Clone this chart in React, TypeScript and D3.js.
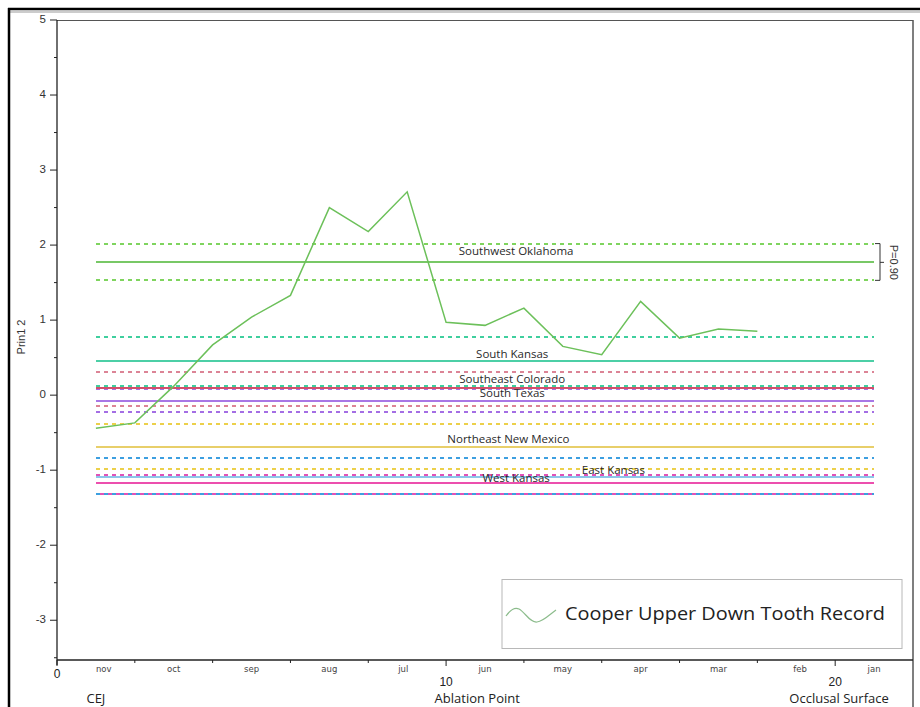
import React from "react";
import * as d3 from "d3";

// Cooper upper tooth record, sampled along the tooth
const ablationPoints = [1, 2, 3, 4, 5, 6, 7, 8, 9, 10, 11, 12, 13, 14, 15, 16, 17, 18];
const prin2Values = [-0.44, -0.37, 0.12, 0.67, 1.04, 1.33, 2.5, 2.18, 2.71, 0.97, 0.93, 1.16, 0.65, 0.54, 1.25, 0.76, 0.88, 0.85];

// Regional reference means with their 0.90 intervals
const regionNames = ["Southwest Oklahoma", "South Kansas", "Southeast Colorado", "South Texas", "Northeast New Mexico", "East Kansas", "West Kansas"];
const regionMeans = [1.77, 0.46, 0.1, -0.08, -0.69, -1.09, -1.17];
const regionUpper = [2.02, 0.78, 0.31, 0.08, -0.38, -0.84, -1.07];
const regionLower = [1.53, 0.12, -0.15, -0.22, -0.99, -1.32, -1.32];
const regionMeanColors = ["#78c866", "#4ccfa6", "#d2506a", "#a877e6", "#e8cf6a", "#8cc6ea", "#ec4fae"];
const regionBandColors = ["#7fd45e", "#3fcf9e", "#dc8496", "#a46ee4", "#ecd04a", "#3d9fe0", "#e052b8"];
const regionLabelX = [11.8, 11.7, 11.7, 11.7, 11.6, 14.3, 11.8];
const regionLabelDy = [-10, -6, -8, -7, -7, -6, -4];

// Axis ticks and labels
const yMajorTicks = [-3, -2, -1, 0, 1, 2, 3, 4, 5];
const yMinorTicks = [-3.5, -2.5, -1.5, -0.5, 0.5, 1.5, 2.5, 3.5, 4.5];
const xMajorTicks = [0, 10, 20];
const xMinorTicks = [2, 4, 6, 8, 12, 14, 16, 18];
const monthLabels = ["nov", "oct", "sep", "aug", "jul", "jun", "may", "apr", "mar", "feb", "jan"];
const monthPositions = [1.2, 3, 5, 7, 8.9, 11, 13, 15, 17, 19.1, 21];
const sectionLabels = ["CEJ", "Ablation Point", "Occlusal Surface"];
const sectionPositions = [1.0, 10.8, 20.1];
const refLineStart = 1;
const refLineEnd = 21;

const W = 920;
const H = 707;
const left = 57;
const right = 913;
const top = 20;
const bottom = 660;

export default function App() {
  const x = d3.scaleLinear().domain([0, 22]).range([left, right]);
  const y = d3.scaleLinear().domain([-3.53, 5]).range([bottom, top]);
  const ys = (v: number) => Math.round(y(v));

  const line = d3
    .line<number>()
    .x((_, i) => x(ablationPoints[i]))
    .y((d) => y(d));

  const labelFont = "'Open Sans', 'Noto Sans', sans-serif";
  const axisFont = "'Liberation Sans', Arial, sans-serif";

  const bracketX = 880;
  const yUp = y(regionUpper[0]);
  const yLo = y(regionLower[0]);
  const yMid = y(regionMeans[0]);

  return (
    <svg
      width={W}
      height={H}
      style={{ position: "absolute", left: 0, top: 0, background: "#fff" }}
    >
      <rect x={0} y={0} width={W} height={H} fill="#fff" />
      {/* outer frame */}
      <line x1={8} x2={W} y1={9} y2={9} stroke="#000" strokeWidth={2.5} />
      <line x1={10} x2={W} y1={12} y2={12} stroke="#999" strokeWidth={1} />
      <line x1={9} x2={9} y1={8} y2={H} stroke="#000" strokeWidth={2.5} />

      {/* plot frame */}
      <line x1={left} x2={right} y1={top + 0.5} y2={top + 0.5} stroke="#555" strokeWidth={1.2} />
      <line x1={right} x2={right} y1={top} y2={H} stroke="#555" strokeWidth={1.5} />

      {/* reference bands */}
      {regionNames.map((name, i) => (
        <g key={name} shapeRendering="crispEdges">
          <line
            x1={x(refLineStart)}
            x2={x(refLineEnd)}
            y1={ys(regionUpper[i])}
            y2={ys(regionUpper[i])}
            stroke={regionBandColors[i]}
            strokeWidth={2}
            strokeDasharray="4,4"
          />
          <line
            x1={x(refLineStart)}
            x2={x(refLineEnd)}
            y1={ys(regionLower[i])}
            y2={ys(regionLower[i])}
            stroke={regionBandColors[i]}
            strokeWidth={2}
            strokeDasharray="4,4"
            strokeDashoffset={i === 6 ? 4 : 0}
          />
        </g>
      ))}
      {regionNames.map((name, i) => (
        <line
          key={name + "-mean"}
          shapeRendering="crispEdges"
          x1={x(refLineStart)}
          x2={x(refLineEnd)}
          y1={ys(regionMeans[i])}
          y2={ys(regionMeans[i])}
          stroke={regionMeanColors[i]}
          strokeWidth={2}
        />
      ))}
      {regionNames.map((name, i) => (
        <text
          key={name + "-label"}
          x={x(regionLabelX[i])}
          y={y(regionMeans[i]) + regionLabelDy[i]}
          textAnchor="middle"
          dominantBaseline="middle"
          fontFamily={labelFont}
          fontSize={11.5}
          fill="#2a2a2a"
        >
          {name}
        </text>
      ))}

      {/* interval bracket */}
      <path
        d={`M${bracketX - 5},${yUp} L${bracketX},${yUp} L${bracketX},${yLo} L${bracketX - 5},${yLo} M${bracketX},${yMid} L${bracketX + 4},${yMid}`}
        fill="none"
        stroke="#333"
        strokeWidth={1}
      />
      <text
        transform={`translate(${bracketX + 13},${yMid}) rotate(90)`}
        textAnchor="middle"
        dominantBaseline="middle"
        fontFamily={axisFont}
        fontSize={11}
        fill="#333"
      >
        P=0.90
      </text>

      {/* tooth record */}
      <path d={line(prin2Values) ?? ""} fill="none" stroke="#6cc05a" strokeWidth={1.5} />

      {/* y axis */}
      <line x1={left} x2={left} y1={top} y2={bottom + 5} stroke="#222" strokeWidth={1.3} />
      {yMajorTicks.map((t) => (
        <g key={"ym" + t}>
          <line x1={left - 7} x2={left} y1={y(t)} y2={y(t)} stroke="#222" strokeWidth={1} />
          <text
            x={left - 11}
            y={y(t)}
            textAnchor="end"
            dominantBaseline="middle"
            fontFamily={axisFont}
            fontSize={11.5}
            fill="#333"
          >
            {t}
          </text>
        </g>
      ))}
      {yMinorTicks.map((t) => (
        <line key={"yn" + t} x1={left - 3} x2={left} y1={y(t)} y2={y(t)} stroke="#222" strokeWidth={1} />
      ))}
      <text
        transform={`translate(22,${337}) rotate(-90)`}
        textAnchor="middle"
        dominantBaseline="middle"
        fontFamily={axisFont}
        fontSize={11}
        fill="#333"
      >
        Prin1 2
      </text>

      {/* x axis */}
      <line x1={left} x2={right} y1={bottom} y2={bottom} stroke="#222" strokeWidth={1.3} />
      {xMajorTicks.map((t) => (
        <g key={"xm" + t}>
          <line x1={x(t)} x2={x(t)} y1={bottom} y2={bottom + 6} stroke="#222" strokeWidth={1} />
          <text
            x={x(t)}
            y={t === 0 ? 678 : 686}
            textAnchor="middle"
            fontFamily={axisFont}
            fontSize={12}
            fill="#222"
          >
            {t}
          </text>
        </g>
      ))}
      {xMinorTicks.map((t) => (
        <line key={"xn" + t} x1={x(t)} x2={x(t)} y1={bottom} y2={bottom + 3} stroke="#222" strokeWidth={1} />
      ))}
      {monthLabels.map((m, i) => (
        <text
          key={m}
          x={x(monthPositions[i])}
          y={672}
          textAnchor="middle"
          fontFamily="'DejaVu Sans', Verdana, sans-serif"
          fontSize={8.5}
          fill="#444"
        >
          {m}
        </text>
      ))}
      {sectionLabels.map((s, i) => (
        <text
          key={s}
          x={x(sectionPositions[i])}
          y={702.5}
          textAnchor="middle"
          fontFamily={labelFont}
          fontSize={13}
          fill="#222"
        >
          {s}
        </text>
      ))}

      {/* legend */}
      <rect x={502} y={579.5} width={400} height={69} fill="#fff" stroke="#b8b8b8" strokeWidth={1} />
      <path
        d="M506,616 C511,609 515,607 519,609 C525,612 530,623 537,622 C544,621 550,614 556,610"
        fill="none"
        stroke="#8cbc8c"
        strokeWidth={1.2}
      />
      <text
        x={565}
        y={615}
        dominantBaseline="middle"
        fontFamily={labelFont}
        fontSize={18.5}
        fill="#222"
        textLength={320}
        lengthAdjust="spacingAndGlyphs"
      >
        Cooper Upper Down Tooth Record
      </text>
    </svg>
  );
}
